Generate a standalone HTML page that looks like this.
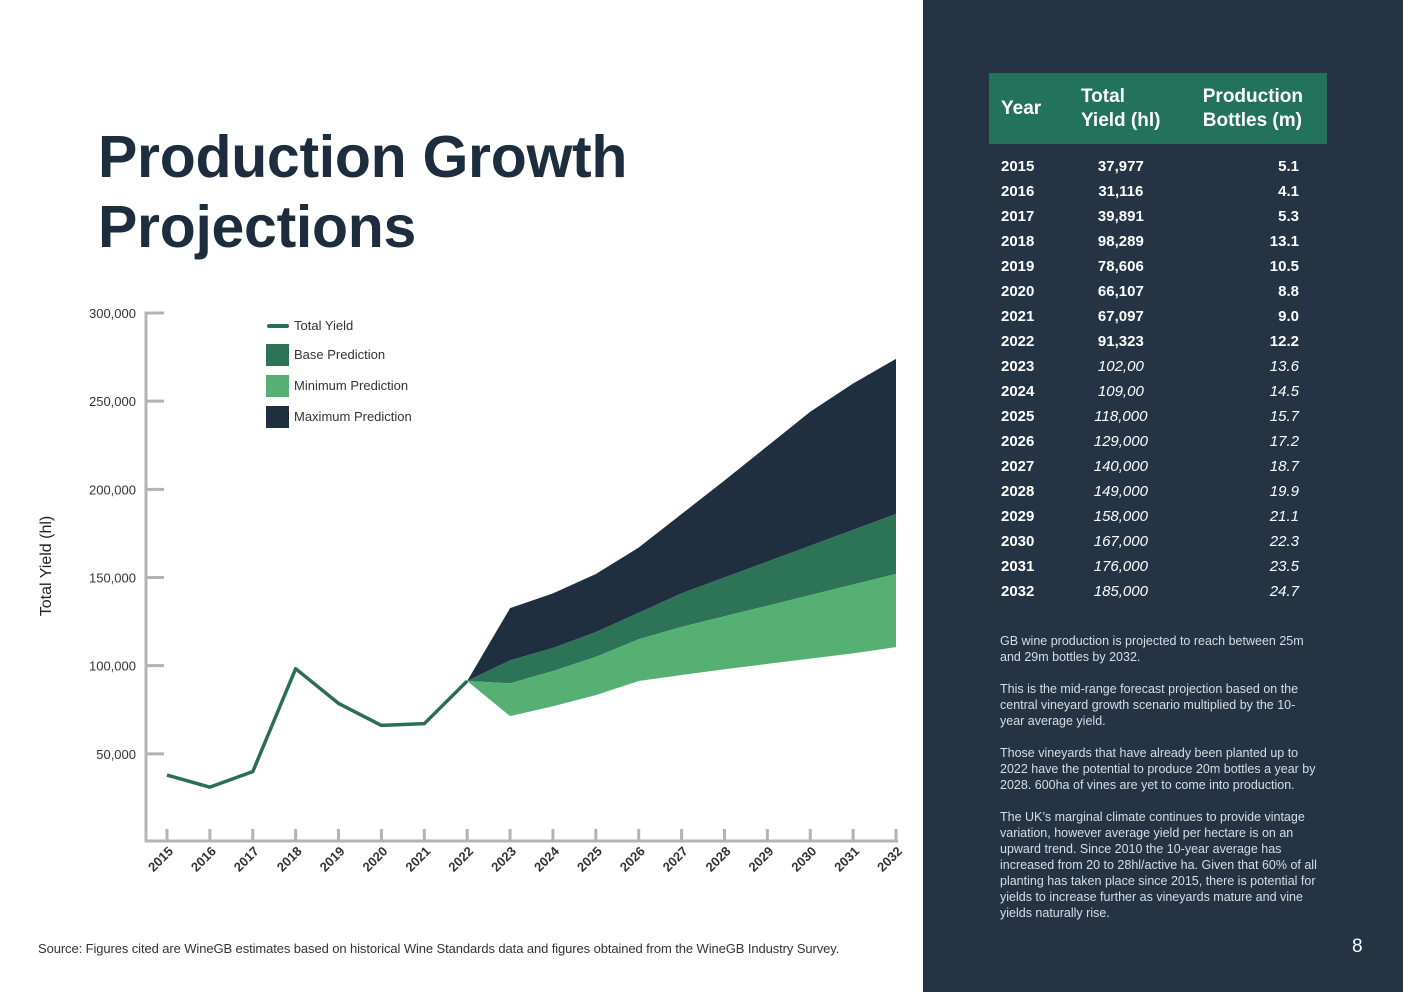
<!DOCTYPE html>
<html><head><meta charset="utf-8"><style>
body{margin:0;width:1403px;height:992px;position:relative;overflow:hidden;background:#fff;font-family:"Liberation Sans",sans-serif}
#panel{position:absolute;left:923px;top:0;width:480px;height:992px;background:#243445}
h1{position:absolute;left:98px;top:122px;margin:0;font-size:59px;line-height:70px;font-weight:bold;color:#1e2d3d;letter-spacing:-0.3px}
table{position:absolute;left:989px;top:73px;width:338px;border-collapse:collapse;color:#fff;font-size:15px}
th{background:#23735a;text-align:left;font-size:19px;line-height:24px;padding:0 12px;height:71px}
th:nth-child(2){padding-left:22px}th:nth-child(3){padding-left:20px}
td{height:25px;padding:0 12px;font-weight:bold}
td:nth-child(2){text-align:center}td:nth-child(3){text-align:right;padding-right:28px}
tr.p td:nth-child(n+2){font-style:italic;font-weight:normal}
tr.first td{padding-top:10px}
.notes{position:absolute;left:1000px;top:633px;width:318px;color:#d8dde3;font-size:12.5px;line-height:16px}
.notes p{margin:0 0 16px}
</style></head><body>
<div id="panel"></div>
<h1>Production Growth<br>Projections</h1>
<table>
<tr><th>Year</th><th>Total<br>Yield (hl)</th><th>Production<br>Bottles (m)</th></tr>
<tr class="first"><td>2015</td><td>37,977</td><td>5.1</td></tr>
<tr><td>2016</td><td>31,116</td><td>4.1</td></tr>
<tr><td>2017</td><td>39,891</td><td>5.3</td></tr>
<tr><td>2018</td><td>98,289</td><td>13.1</td></tr>
<tr><td>2019</td><td>78,606</td><td>10.5</td></tr>
<tr><td>2020</td><td>66,107</td><td>8.8</td></tr>
<tr><td>2021</td><td>67,097</td><td>9.0</td></tr>
<tr><td>2022</td><td>91,323</td><td>12.2</td></tr>
<tr class="p"><td>2023</td><td>102,00</td><td>13.6</td></tr>
<tr class="p"><td>2024</td><td>109,00</td><td>14.5</td></tr>
<tr class="p"><td>2025</td><td>118,000</td><td>15.7</td></tr>
<tr class="p"><td>2026</td><td>129,000</td><td>17.2</td></tr>
<tr class="p"><td>2027</td><td>140,000</td><td>18.7</td></tr>
<tr class="p"><td>2028</td><td>149,000</td><td>19.9</td></tr>
<tr class="p"><td>2029</td><td>158,000</td><td>21.1</td></tr>
<tr class="p"><td>2030</td><td>167,000</td><td>22.3</td></tr>
<tr class="p"><td>2031</td><td>176,000</td><td>23.5</td></tr>
<tr class="p"><td>2032</td><td>185,000</td><td>24.7</td></tr>
</table>
<div class="notes">
<p>GB wine production is projected to reach between 25m and 29m bottles by 2032.</p>
<p>This is the mid-range forecast projection based on the central vineyard growth scenario multiplied by the 10-year average yield.</p>
<p>Those vineyards that have already been planted up to 2022 have the potential to produce 20m bottles a year by 2028. 600ha of vines are yet to come into production.</p>
<p>The UK’s marginal climate continues to provide vintage variation, however average yield per hectare is on an upward trend. Since 2010 the 10-year average has increased from 20 to 28hl/active ha. Given that 60% of all planting has taken place since 2015, there is potential for yields to increase further as vineyards mature and vine yields naturally rise.</p>
</div>
<div style="position:absolute;left:1352px;top:936px;color:#fff;font-size:19px">8</div>
<div style="position:absolute;left:38px;top:941px;color:#333;font-size:13px;letter-spacing:-0.1px">Source: Figures cited are WineGB estimates based on historical Wine Standards data and figures obtained from the WineGB Industry Survey.</div>
<svg id="chart" width="923" height="992" style="position:absolute;left:0;top:0"></svg>
<script>
const years=[2015,2016,2017,2018,2019,2020,2021,2022,2023,2024,2025,2026,2027,2028,2029,2030,2031,2032];
const totalYield=[37977,31116,39891,98289,78606,66107,67097,91323];
const predYears=[2022,2023,2024,2025,2026,2027,2028,2029,2030,2031,2032];
const minLow=[91323,71400,77000,83300,91300,94700,98000,101000,104000,107000,110500];
const minHigh=[91323,90000,97000,105000,115000,122000,128000,134000,140000,146000,152000];
const baseHigh=[91323,103000,110000,119000,130000,141000,150000,159000,168000,177000,186000];
const maxHigh=[91323,132600,141000,152000,167000,186000,205000,224500,244000,260000,274000];
const yTicks=[50000,100000,150000,200000,250000,300000];
const NS='http://www.w3.org/2000/svg';
const svg=document.getElementById('chart');
const x=yr=>167+(yr-2015)*(896-167)/17;
const y=v=>842-v*(842-313)/300000;
function mk(t,a){const e=document.createElementNS(NS,t);for(const k in a)e.setAttribute(k,a[k]);svg.appendChild(e);return e;}
function band(lo,hi,fill,name){
 let d='M'+predYears.map((yr,i)=>x(yr)+','+y(hi[i])).join('L');
 d+='L'+predYears.map((yr,i)=>x(yr)+','+y(lo[i])).reverse().join('L')+'Z';
 const p=mk('path',{d:d,fill:fill});
 
 
}
band(baseHigh,maxHigh,'#1f2f40','max-prediction-band');
band(minHigh,baseHigh,'#2c7358','base-prediction-band');
band(minLow,minHigh,'#56b073','min-prediction-band');
const ln=mk('polyline',{points:totalYield.map((v,i)=>x(years[i])+','+y(v)).join(' '),fill:'none',stroke:'#2c6e55','stroke-width':3.5,'stroke-linejoin':'round'});


mk('path',{d:'M164,313H146V841H898',fill:'none',stroke:'#b3b3b3','stroke-width':3});
yTicks.forEach(v=>{
 mk('line',{x1:146,x2:164,y1:y(v),y2:y(v),stroke:'#b3b3b3','stroke-width':3});
 const t=mk('text',{x:136,y:y(v)+5,'text-anchor':'end','font-size':13,fill:'#333','font-family':'Liberation Sans, sans-serif'});
 t.textContent=v.toLocaleString('en-US');
 
 
});
years.forEach(yr=>{
 mk('line',{x1:x(yr),x2:x(yr),y1:829,y2:841,stroke:'#b3b3b3','stroke-width':3});
 const t=mk('text',{x:x(yr)+7,y:852,'text-anchor':'end','font-size':13,'font-weight':'bold',fill:'#333',transform:`rotate(-45 ${x(yr)+7} 852)`,'font-family':'Liberation Sans, sans-serif'});
 t.textContent=yr;
 
 
});
const yt=mk('text',{x:51,y:566,'text-anchor':'middle','font-size':16,fill:'#222',transform:'rotate(-90 51 566)','font-family':'Liberation Sans, sans-serif'});
yt.textContent='Total Yield (hl)';


mk('line',{x1:269,x2:287,y1:326,y2:326,stroke:'#2c6e55','stroke-width':4,'stroke-linecap':'round'});
[['Base Prediction','#2c7358',344],['Minimum Prediction','#56b073',375],['Maximum Prediction','#1f2f40',406]].forEach(l=>{
 const r=mk('rect',{x:266,y:l[2],width:23,height:22,fill:l[1]});
 
 
});
[['Total Yield',330],['Base Prediction',359],['Minimum Prediction',390],['Maximum Prediction',421]].forEach(l=>{
 const t=mk('text',{x:294,y:l[1],'font-size':13,fill:'#333','font-family':'Liberation Sans, sans-serif'});
 t.textContent=l[0];
 
 
});
</script>
</body></html>
